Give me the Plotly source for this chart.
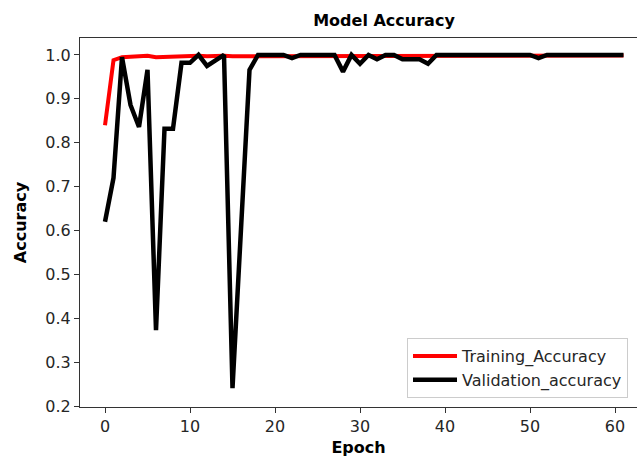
import plotly.graph_objects as go

epochs = list(range(62))

training_accuracy = [
    0.84, 0.988, 0.995, 0.996, 0.997, 0.998, 0.995, 0.996, 0.997, 0.997,
    0.998, 0.998, 0.997, 0.998, 0.998, 0.997, 0.997, 0.998, 0.998, 0.999,
    0.999, 0.999, 0.999, 0.999, 0.999, 0.999, 0.999, 0.999, 0.999, 0.999,
    0.999, 0.999, 0.999, 0.999, 0.999, 0.999, 0.999, 0.999, 0.999, 0.999,
    0.999, 0.999, 0.999, 0.999, 0.999, 0.999, 0.999, 0.999, 0.999, 0.999,
    0.999, 0.999, 0.999, 0.999, 0.999, 0.999, 0.999, 0.999, 0.999, 0.999,
    0.999, 0.999,
]

validation_accuracy = [
    0.62, 0.72, 0.995, 0.886, 0.836, 0.966, 0.373, 0.832, 0.832, 0.982,
    0.982, 1.0, 0.975, 0.987, 1.0, 0.241, 0.60, 0.966, 1.0, 1.0,
    1.0, 1.0, 0.993, 1.0, 1.0, 1.0, 1.0, 1.0, 0.962, 1.0,
    0.98, 1.0, 0.99, 1.0, 1.0, 0.99, 0.99, 0.99, 0.98, 1.0,
    1.0, 1.0, 1.0, 1.0, 1.0, 1.0, 1.0, 1.0, 1.0, 1.0,
    1.0, 0.993, 1.0, 1.0, 1.0, 1.0, 1.0, 1.0, 1.0, 1.0,
    1.0, 1.0,
]

x_ticks = [0, 10, 20, 30, 40, 50, 60]
y_ticks = [0.2, 0.3, 0.4, 0.5, 0.6, 0.7, 0.8, 0.9, 1.0]

FONT = "DejaVu Sans"

fig = go.Figure()
fig.add_trace(go.Scatter(x=epochs, y=training_accuracy, mode="lines",
                         name="Training_Accuracy",
                         line=dict(color="#ff0000", width=4)))
fig.add_trace(go.Scatter(x=epochs, y=validation_accuracy, mode="lines",
                         name="Validation_accuracy",
                         line=dict(color="#000000", width=4.5)))

W, H = 637, 461
L, R, T, B = 80, 0, 38, 54

fig.update_layout(
    width=W, height=H,
    margin=dict(l=L, r=R, t=T, b=B, autoexpand=False),
    paper_bgcolor="white", plot_bgcolor="white",
    font=dict(family=FONT, size=16, color="#262626"),
    title=dict(text="<b>Model Accuracy</b>", x=(384 - L) / (W - L - R), xref="paper",
               xanchor="center", y=1 - 20 / H, yanchor="middle",
               font=dict(family=FONT, size=16, color="#000000")),
    showlegend=True,
    legend=dict(x=(407 - L) / (W - L - R), xanchor="left",
                y=(H - B - 398) / (H - T - B), yanchor="bottom",
                bordercolor="#cccccc", borderwidth=1, bgcolor="white",
                font=dict(family=FONT, size=16, color="#262626"),
                tracegroupgap=0, itemwidth=44),
)

fig.update_xaxes(
    range=[(80 - 105) / 8.5, (637 - 105) / 8.5],
    tickvals=x_ticks, ticktext=[str(v) for v in x_ticks],
    showgrid=False, zeroline=False, automargin=False,
    showline=True, linecolor="#333333", linewidth=1, mirror=True,
    ticks="outside", ticklen=5, tickcolor="#333333",
    title=dict(text="<b>Epoch</b>", font=dict(family=FONT, size=16, color="#000000"), standoff=6),
    tickfont=dict(size=16, color="#262626"),
)
fig.update_yaxes(
    range=[0.198, 1.0386],
    tickvals=y_ticks, ticktext=[f"{v:.1f}" for v in y_ticks],
    showgrid=False, zeroline=False, automargin=False,
    showline=True, linecolor="#333333", linewidth=1, mirror=False,
    ticks="outside", ticklen=5, tickcolor="#333333",
    title=dict(text="<b>Accuracy</b>", font=dict(family=FONT, size=16, color="#000000"), standoff=14),
    tickfont=dict(size=16, color="#262626"),
)

fig.write_html("out.html", config={"displayModeBar": False},
               post_script="document.body.style.margin='0';")
